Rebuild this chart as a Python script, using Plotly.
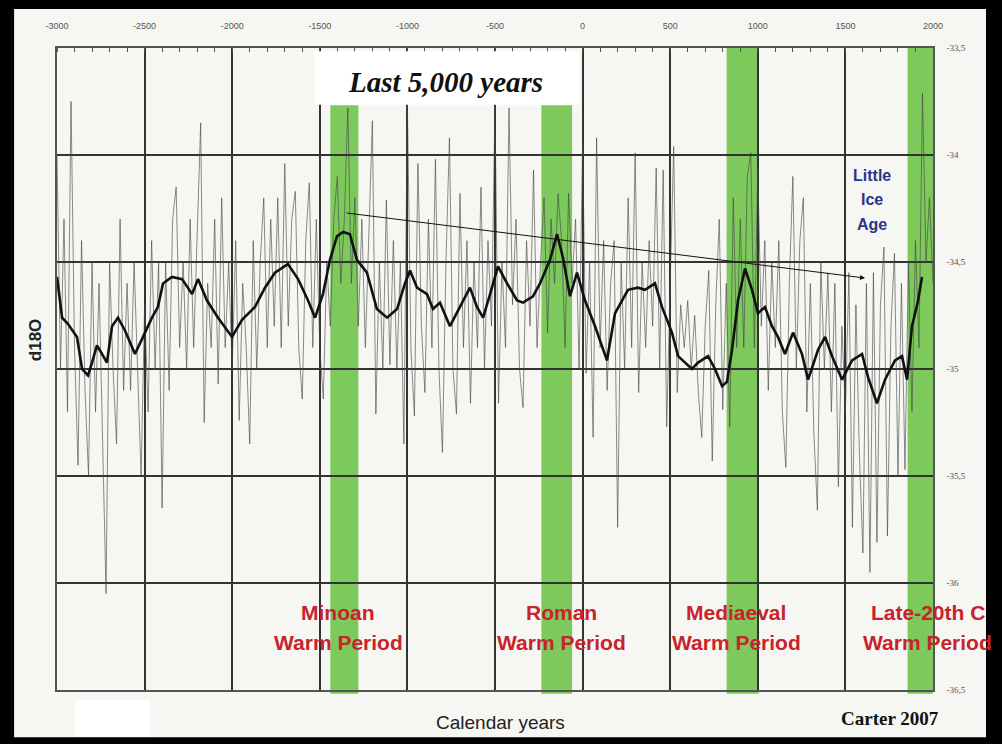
import plotly.graph_objects as go

# ---------------- data ----------------
raw_start = -3000
raw_step = 20
raw_vals = [
    -34.0, -35.0, -34.3, -35.2, -33.75,
    -34.9, -35.45, -34.4, -35.1, -35.5,
    -34.5, -35.2, -34.6, -35.3, -36.05,
    -34.5, -35.0, -35.35, -34.3, -35.1,
    -34.6, -35.1, -34.5, -35.0, -35.5,
    -34.7, -35.2, -34.4, -35.0, -34.5,
    -35.65, -34.5, -35.1, -34.3, -34.15,
    -34.9, -34.5, -35.0, -34.3, -34.9,
    -34.4, -33.85, -35.25, -34.6, -34.9,
    -34.3, -35.07, -34.2, -34.9, -34.5,
    -35.0, -34.4, -35.24, -34.6, -34.9,
    -35.35, -34.4, -35.0, -34.5, -34.2,
    -34.9, -34.3, -34.8, -34.2, -34.9,
    -34.04, -34.8, -34.3, -34.17, -34.9,
    -35.14, -34.4, -34.13, -34.9, -34.3,
    -34.9, -35.14, -34.5, -34.8, -34.3,
    -34.1, -34.6, -34.3, -33.78, -34.6,
    -34.2, -34.8, -34.3, -34.9, -34.4,
    -33.84, -35.21, -34.5, -35.0, -34.21,
    -34.98, -34.4, -35.0, -34.5, -35.35,
    -33.76, -34.9, -35.22, -34.04, -34.8,
    -35.11, -34.3, -34.9, -34.02, -35.0,
    -35.39, -34.5, -33.92, -35.0, -35.21,
    -34.18, -34.9, -34.4, -35.16, -34.5,
    -34.9, -34.15, -35.0, -34.4, -34.8,
    -33.76, -35.16, -34.5, -34.9, -33.78,
    -34.7, -34.3, -35.0, -35.18, -34.4,
    -34.8, -34.07, -34.9, -34.5, -34.2,
    -34.83, -34.3, -34.6, -34.18, -34.4,
    -34.9, -34.18, -34.6, -34.3, -35.0,
    -33.94, -35.02, -34.5, -35.32, -33.92,
    -34.9, -34.4, -35.1, -34.6, -34.40,
    -35.74, -34.5, -35.0, -34.2, -34.9,
    -33.99, -35.11, -34.5, -34.9, -34.4,
    -34.8, -34.06, -35.0, -34.07, -35.27,
    -34.6, -33.96, -35.11, -34.7, -34.9,
    -34.68, -35.0, -34.75, -35.1, -35.32,
    -34.8, -34.54, -35.43, -34.7, -34.30,
    -35.19, -34.6, -35.27, -34.2, -34.9,
    -34.3, -34.9, -34.1, -33.99, -34.9,
    -34.07, -34.8, -34.4, -35.1, -34.5,
    -34.9, -34.4, -35.2, -35.46, -34.6,
    -34.10, -35.0, -34.4, -34.20, -35.2,
    -34.6, -35.3, -35.66, -34.5, -35.0,
    -34.55, -35.2, -34.6, -35.55, -34.8,
    -35.2, -34.55, -35.74, -34.7, -35.4,
    -35.86, -34.6, -35.95, -34.55, -35.81,
    -34.7, -34.43, -35.78, -34.8, -34.46,
    -35.5, -34.6, -35.47, -34.5, -35.2,
    -34.4, -34.9, -33.71, -34.5, -34.2,
    -34.6,
]
raw_years = [raw_start + i * raw_step for i in range(len(raw_vals))]

smooth_years = [
    -3000, -2971, -2937, -2886, -2857, -2823, -2800, -2772, -2743, -2715,
    -2686, -2652, -2612, -2555, -2509, -2458, -2424, -2395, -2344, -2286,
    -2229, -2195, -2144, -2081, -2001, -1944, -1870, -1813, -1756, -1682,
    -1624, -1567, -1527, -1482, -1442, -1402, -1367, -1328, -1288, -1231,
    -1174, -1116, -1059, -1014, -985, -945, -888, -854, -814, -757,
    -700, -643, -603, -568, -528, -483, -431, -374, -340, -283,
    -243, -186, -146, -112, -72, -32, 14, 71, 139, 185,
    225, 259, 316, 356, 413, 453, 510, 545, 624, 659,
    716, 756, 796, 824, 853, 887, 927, 967, 1001, 1041,
    1081, 1115, 1155, 1201, 1252, 1287, 1344, 1384, 1424, 1481,
    1538, 1595, 1630, 1680, 1726, 1783, 1823, 1852, 1880, 1915,
    1937,
]
smooth_vals = [
    -34.57, -34.76, -34.79, -34.85, -35.00, -35.03, -34.97, -34.89, -34.93, -34.97,
    -34.80, -34.76, -34.82, -34.93, -34.85, -34.76, -34.71, -34.60, -34.57, -34.58,
    -34.65, -34.58, -34.68, -34.76, -34.85, -34.77, -34.71, -34.62, -34.55, -34.51,
    -34.58, -34.68, -34.76, -34.65, -34.49, -34.38, -34.36, -34.37, -34.49, -34.55,
    -34.72, -34.76, -34.72, -34.60, -34.54, -34.62, -34.65, -34.72, -34.69, -34.80,
    -34.71, -34.62, -34.71, -34.76, -34.65, -34.52, -34.60, -34.68, -34.69, -34.66,
    -34.60, -34.49, -34.37, -34.48, -34.66, -34.55, -34.68, -34.80, -34.96, -34.74,
    -34.68, -34.63, -34.62, -34.63, -34.60, -34.71, -34.83, -34.94, -35.00, -34.97,
    -34.94, -35.00, -35.08, -35.06, -34.91, -34.68, -34.53, -34.63, -34.74, -34.71,
    -34.80, -34.85, -34.93, -34.83, -34.93, -35.05, -34.91, -34.85, -34.94, -35.05,
    -34.96, -34.93, -35.04, -35.16, -35.05, -34.96, -34.94, -35.05, -34.80, -34.68,
    -34.57,
]

x_ticks = [-3000, -2500, -2000, -1500, -1000, -500, 0, 500, 1000, 1500, 2000]
x_ticktext = ["-3000", "-2500", "-2000", "-1500", "-1000", "-500", "0",
              "500", "1000", "1500", "2000"]
y_ticks = [-33.5, -34.0, -34.5, -35.0, -35.5, -36.0, -36.5]
y_ticktext = ["-33,5", "-34", "-34,5", "-35", "-35,5", "-36", "-36,5"]

warm_names = ["Minoan", "Roman", "Mediaeval", "Late-20th C"]
warm_start = [-1440, -235, 822, 1855]
warm_end = [-1280, -60, 1005, 2000]
warm_label_x = [-1396, -118, 876, 1971]

trend_from = (-1356, -34.27)
trend_to = (1612, -34.575)

# ---------------- styling ----------------
BG = "#f6f6f2"
GREEN = "#7dc95c"
RED = "#c8232c"
BLUE = "#2a3590"
GRID = "#333333"

fig = go.Figure()

fig.add_trace(go.Scatter(
    x=raw_years, y=raw_vals, mode="lines",
    line=dict(color="rgba(70,70,70,0.62)", width=1),
    hoverinfo="skip", showlegend=False))

fig.add_trace(go.Scatter(
    x=smooth_years, y=smooth_vals, mode="lines",
    line=dict(color="#111111", width=2.6),
    hoverinfo="skip", showlegend=False))

shapes = []
shapes.append(dict(type="rect", xref="paper", yref="paper",
                   x0=-0.049, x1=1.0605, y0=-0.0735, y1=1.0607,
                   fillcolor=BG, line=dict(width=0), layer="below"))
shapes.append(dict(type="rect", xref="paper", yref="paper",
                   x0=0.0205, x1=0.106, y0=-0.073, y1=-0.0156,
                   fillcolor="#ffffff", line=dict(width=0), layer="below"))
for i, (s, e) in enumerate(zip(warm_start, warm_end)):
    top = 0.911 if i < 2 else 1.0
    shapes.append(dict(type="rect", xref="x", yref="paper",
                       x0=s, x1=e, y0=-0.006, y1=top,
                       fillcolor=GREEN, line=dict(width=0), layer="below"))
shapes.append(dict(type="rect", xref="x", yref="y",
                   x0=-1530, x1=-20, y0=-33.765, y1=-33.515,
                   fillcolor="#ffffff", line=dict(width=0), layer="above"))

annotations = []
annotations.append(dict(x=-785, y=-33.66, xref="x", yref="y",
                        text="<b><i>Last 5,000 years</i></b>", showarrow=False,
                        font=dict(family="Liberation Serif", size=29, color="#111111")))
for name, lx in zip(warm_names, warm_label_x):
    annotations.append(dict(x=lx, y=-36.14, xref="x", yref="y", text="<b>%s</b>" % name,
                            showarrow=False,
                            font=dict(family="Liberation Sans", size=21, color=RED)))
    annotations.append(dict(x=lx, y=-36.28, xref="x", yref="y", text="<b>Warm Period</b>",
                            showarrow=False,
                            font=dict(family="Liberation Sans", size=21, color=RED)))
for word, wy in zip(["Little", "Ice", "Age"], [-34.098, -34.21, -34.327]):
    annotations.append(dict(x=1652, y=wy, xref="x", yref="y", text="<b>%s</b>" % word,
                            showarrow=False,
                            font=dict(family="Liberation Sans", size=16, color=BLUE)))
annotations.append(dict(x=trend_to[0], y=trend_to[1], ax=trend_from[0], ay=trend_from[1],
                        xref="x", yref="y", axref="x", ayref="y", text="",
                        showarrow=True, arrowhead=2, arrowsize=1, arrowwidth=1,
                        arrowcolor="#111111"))
annotations.append(dict(x=-0.025, y=0.545, xref="paper", yref="paper", text="<b>d18O</b>",
                        xanchor="center", yanchor="middle",
                        textangle=-90, showarrow=False,
                        font=dict(family="Liberation Sans", size=17, color="#222222")))
annotations.append(dict(x=0.506, y=-0.05, xref="paper", yref="paper", text="Calendar years",
                        xanchor="center", yanchor="middle", showarrow=False,
                        font=dict(family="Liberation Sans", size=19, color="#222222")))
annotations.append(dict(x=0.951, y=-0.044, xref="paper", yref="paper", text="<b>Carter 2007</b>",
                        xanchor="center", yanchor="middle", showarrow=False,
                        font=dict(family="Liberation Serif", size=19, color="#111111")))

fig.update_layout(
    width=1002, height=744,
    margin=dict(l=57, r=69, t=48, b=54),
    paper_bgcolor="#000000",
    plot_bgcolor="rgba(0,0,0,0)",
    shapes=shapes,
    annotations=annotations,
    xaxis=dict(range=[-3000, 2000], side="top", tickvals=x_ticks, ticktext=x_ticktext,
               showgrid=True, gridcolor=GRID, gridwidth=1.5,
               showline=True, mirror=True, linecolor="#555555", linewidth=1.5,
               ticks="", tickfont=dict(family="Liberation Sans", size=9, color="#555555"),
               ticklabelstandoff=14, zeroline=False,
               minor=dict(dtick=100, tick0=-3000, ticks="inside", ticklen=4,
                          tickcolor="#555555", showgrid=False)),
    yaxis=dict(range=[-36.5, -33.5], side="right", tickvals=y_ticks, ticktext=y_ticktext,
               showgrid=True, gridcolor=GRID, gridwidth=1.5,
               showline=True, mirror=True, linecolor="#555555", linewidth=1.5,
               ticks="", tickfont=dict(family="Liberation Serif", size=9, color="#555555"),
               ticklabelstandoff=10, zeroline=False),
)

fig.write_html("out.html", config={"displayModeBar": False},
               post_script="document.body.style.margin='0';document.body.style.background='#000';")
